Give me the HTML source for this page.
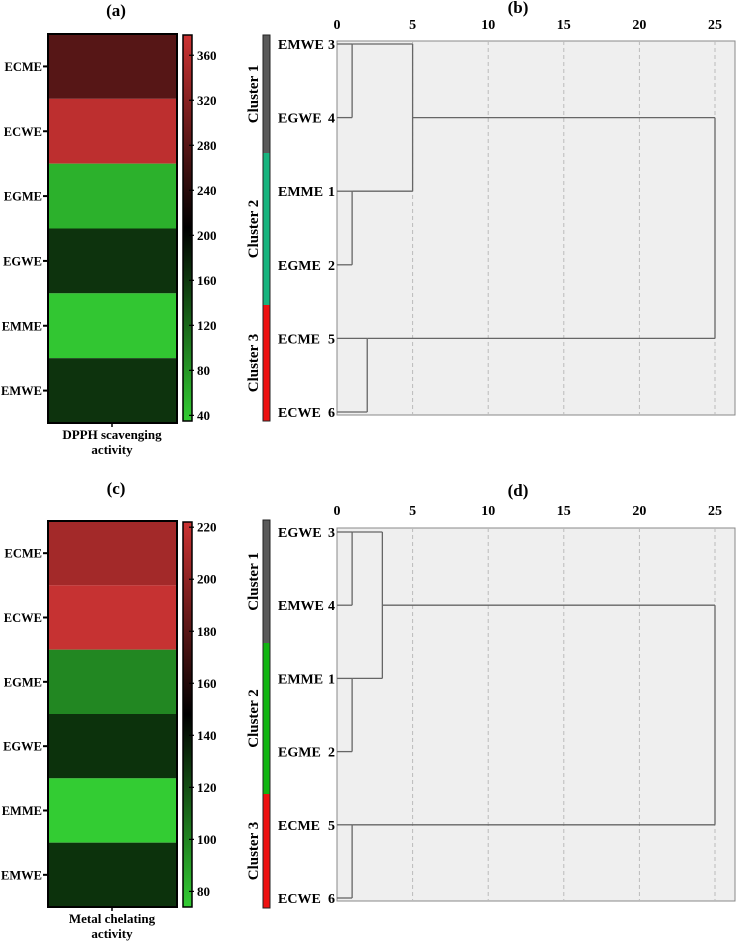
<!DOCTYPE html>
<html><head><meta charset="utf-8"><style>
html,body{margin:0;padding:0;background:#fff}
svg, svg text{font-family:"Liberation Serif","Times New Roman","DejaVu Serif",serif;font-weight:bold}
</style></head><body>
<svg id="s" width="736" height="944" viewBox="0 0 736 944" xmlns="http://www.w3.org/2000/svg" font-family="Liberation Serif, serif" font-weight="bold"></svg>
<script>
const NS="http://www.w3.org/2000/svg";
const svg=document.getElementById('s');
// ---- heatmap data ----
const heatRows=["ECME","ECWE","EGME","EGWE","EMME","EMWE"];
const dpphValues=[279,365,58,164,40,164];
const dpphTicks=[40,80,120,160,200,240,280,320,360];
const chelValues=[207,220,99,130,74,130];
const chelTicks=[80,100,120,140,160,180,200,220];
// ---- dendrogram data ----
const dendroBLabels=["EMWE","EGWE","EMME","EGME","ECME","ECWE"];
const dendroBIds=["3","4","1","2","5","6"];
const dendroBMergeLeft=[0,2,6,4,8];
const dendroBMergeRight=[1,3,7,5,9];
const dendroBHeights=[1,1,5,2,25];
const dendroBRows=[0,2,1,4,4];
const dendroDLabels=["EGWE","EMWE","EMME","EGME","ECME","ECWE"];
const dendroDIds=["3","4","1","2","5","6"];
const dendroDMergeLeft=[0,2,6,4,8];
const dendroDMergeRight=[1,3,7,5,9];
const dendroDHeights=[1,1,3,1,25];
const dendroDRows=[0,2,1,4,4];
const dendroTicks=[0,5,10,15,20,25];
const clusterNames=["Cluster 1","Cluster 2","Cluster 3"];

function el(tag,attrs,parent){const e=document.createElementNS(NS,tag);for(const k in attrs)e.setAttribute(k,attrs[k]);(parent||svg).appendChild(e);return e;}
function txt(s,attrs,parent){const e=el('text',attrs,parent);e.textContent=s;return e;}
function colorFor(v,mn,mx){let t=(v-mn)/(mx-mn);t=Math.max(0,Math.min(1,t));let r,g,b;
 if(t<0.5){const f=1-2*t;r=0x33*f;g=0xcc*f;b=0x33*f;}else{const f=2*t-1;r=0xcc*f;g=0x33*f;b=0x33*f;}
 return `rgb(${Math.round(r)},${Math.round(g)},${Math.round(b)})`;}

function heatmap(cfg){
 const g=el('g',{});
 
 
 const t=txt(cfg.title,{x:116,y:cfg.titleY,'font-size':17,'text-anchor':'middle'},g);
 
 const x0=48,x1=177,y0=cfg.y0,y1=cfg.y1,rh=(y1-y0)/cfg.values.length;
 cfg.values.forEach((v,i)=>{
  const r=el('rect',{x:x0,y:y0+i*rh,width:x1-x0,height:rh,fill:colorFor(v,cfg.min,cfg.max)},g);
  
  
  const yc=y0+(i+0.5)*rh;
  el('line',{x1:x0-5,x2:x0,y1:yc,y2:yc,stroke:'#000','stroke-width':2},g);
  const l=txt(heatRows[i],{x:x0-6,y:yc+4.5,'font-size':12.5,'text-anchor':'end'},g);
  
 });
 el('rect',{x:x0,y:y0,width:x1-x0,height:y1-y0,fill:'none',stroke:'#000','stroke-width':2},g);
 el('line',{x1:112,x2:112,y1:y1,y2:y1+4,stroke:'#000','stroke-width':1.5},g);
 cfg.xlab.forEach((s,i)=>{const l=txt(s,{x:112,y:y1+16+i*15,'font-size':13,'text-anchor':'middle'},g);
  });
 const cb0=cfg.cbY0,cb1=cfg.cbY1,cx=183,cw=9;
 const gid='grad'+cfg.name;
 const defs=el('defs',{},g);const lg=el('linearGradient',{id:gid,x1:0,y1:1,x2:0,y2:0},defs);
 el('stop',{offset:0,'stop-color':'#33cc33'},lg);el('stop',{offset:0.5,'stop-color':'#000'},lg);el('stop',{offset:1,'stop-color':'#cc3333'},lg);
 const cb=el('rect',{x:cx,y:cb0,width:cw,height:cb1-cb0,fill:`url(#${gid})`,stroke:'#000','stroke-width':1.5},g);
 
 const ys=v=>cb1-(v-cfg.min)/(cfg.max-cfg.min)*(cb1-cb0);
 cfg.ticks.forEach(v=>{const y=ys(v);
  el('line',{x1:cx+cw-3,x2:cx+cw+2,y1:y,y2:y,stroke:'#000','stroke-width':1.2},g);
  const l=txt(String(v),{x:197,y:y+4.5,'font-size':13},g);
  });
}
heatmap({name:'heatmap-dpph',title:'(a)',titleY:16,y0:34,y1:423,values:dpphValues,min:35,max:378,ticks:dpphTicks,cbY0:35,cbY1:421,xlab:['DPPH scavenging','activity']});
heatmap({name:'heatmap-chelating',title:'(c)',titleY:494,y0:521,y1:907,values:chelValues,min:74,max:222,ticks:chelTicks,cbY0:522,cbY1:907,xlab:['Metal chelating','activity']});

function dendro(cfg){
 const g=el('g',{});
 
 
 const X0=337,X25=715,bx1=735;
 const xs=v=>X0+v*(X25-X0)/25;
 const ys=r=>cfg.rowY0+r*(cfg.rowY1-cfg.rowY0)/5;
 const t=txt(cfg.title,{x:518,y:cfg.titleY,'font-size':17,'text-anchor':'middle'},g);
 
 el('rect',{x:X0,y:cfg.boxY0,width:bx1-X0,height:cfg.boxY1-cfg.boxY0,fill:'#efefef',stroke:'#888','stroke-width':1},g);
 dendroTicks.forEach(v=>{
  if(v>0){const gl=el('line',{x1:xs(v),x2:xs(v),y1:cfg.boxY0,y2:cfg.boxY1,stroke:'#bbb','stroke-dasharray':'4,3'},g);
   }
  const l=txt(String(v),{x:xs(v),y:cfg.tickY,'font-size':14,'text-anchor':'middle'},g);
  
 });
 const nodeRow=[0,1,2,3,4,5],nodeH=[0,0,0,0,0,0];
 cfg.left.forEach((a,i)=>{nodeRow.push(cfg.rows[i]);nodeH.push(cfg.heights[i]);});
 cfg.left.forEach((a,i)=>{
  const b=cfg.right[i],h=cfg.heights[i];
  const v=el('line',{x1:xs(h),x2:xs(h),y1:ys(nodeRow[a]),y2:ys(nodeRow[b]),stroke:'#666','stroke-width':1.3},g);
  
  [a,b].forEach(c=>{const hl=el('line',{x1:xs(nodeH[c]),x2:xs(h),y1:ys(nodeRow[c]),y2:ys(nodeRow[c]),stroke:'#666','stroke-width':1.3},g);
   });
 });
 cfg.labels.forEach((s,i)=>{
  const l=txt(s,{x:278,y:ys(i)+5,'font-size':14},g);
  
  const n=txt(cfg.ids[i],{x:335,y:ys(i)+5,'font-size':14,'text-anchor':'end'},g);
  
 });
 cfg.bars.forEach((b,i)=>{
  const r=el('rect',{x:263,y:b[0],width:7,height:b[1]-b[0],fill:b[2]},g);
  
  const cy=(b[0]+b[1])/2;
  const l=txt(clusterNames[i],{x:253,y:cy+5,'font-size':15,'text-anchor':'middle',transform:`rotate(-90 253 ${cy})`},g);
  
 });
 el('rect',{x:263,y:cfg.bars[0][0],width:7,height:cfg.bars[2][1]-cfg.bars[0][0],fill:'none',stroke:'#222','stroke-width':1},g);
}
dendro({name:'dendrogram-dpph',title:'(b)',titleY:13,tickY:29,boxY0:41,boxY1:415,rowY0:44,rowY1:412,
 labels:dendroBLabels,ids:dendroBIds,left:dendroBMergeLeft,right:dendroBMergeRight,heights:dendroBHeights,rows:dendroBRows,
 bars:[[35,153,'#5a5a5a'],[153,305,'#17b47e'],[305,421,'#ee1111']]});
dendro({name:'dendrogram-chelating',title:'(d)',titleY:496,tickY:515,boxY0:528,boxY1:901,rowY0:532,rowY1:898,
 labels:dendroDLabels,ids:dendroDIds,left:dendroDMergeLeft,right:dendroDMergeRight,heights:dendroDHeights,rows:dendroDRows,
 bars:[[520,643,'#5a5a5a'],[643,794,'#11b511'],[794,908,'#ee1111']]});
</script>
</body></html>
